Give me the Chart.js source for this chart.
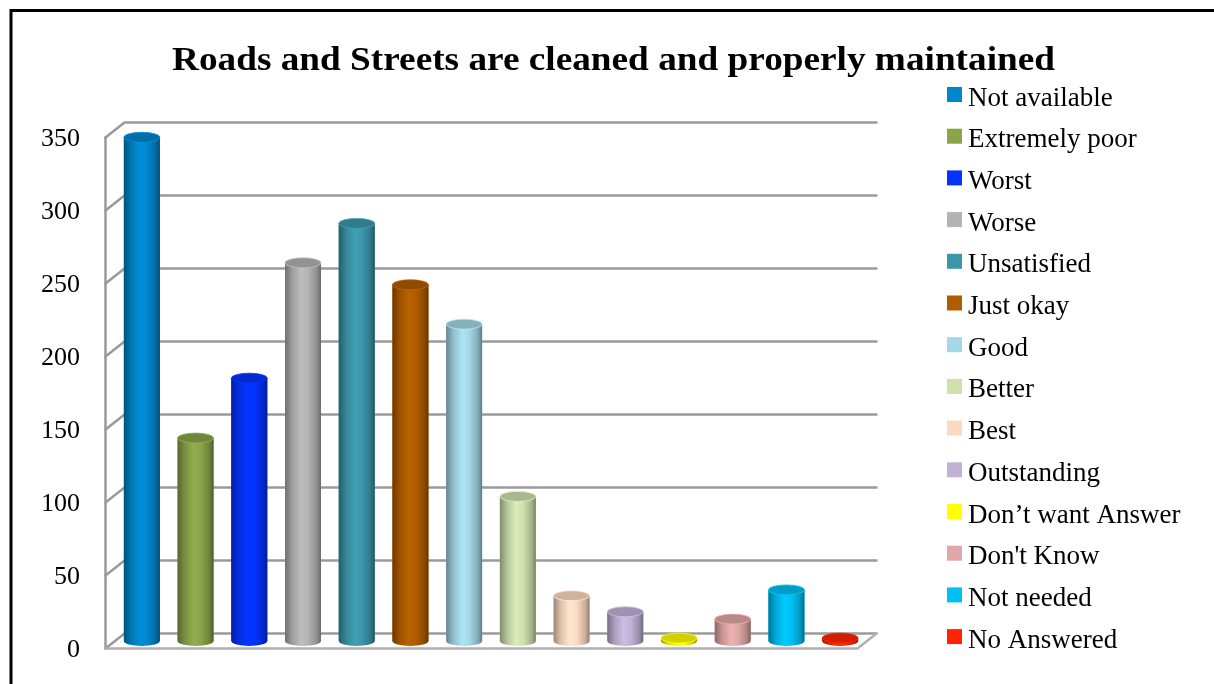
<!DOCTYPE html>
<html>
<head>
<meta charset="utf-8">
<script src="https://cdn.jsdelivr.net/npm/chart.js@4.4.1/dist/chart.umd.min.js"></script>
<style>
  html, body { margin: 0; padding: 0; background: #fff; }
  #wrap { width: 1214px; height: 684px; position: relative; }
</style>
</head>
<body>
<div id="wrap"><canvas id="roadsChart"></canvas></div>
<script>
const categories = [
    'Not available', 'Extremely poor', 'Worst', 'Worse', 'Unsatisfied',
    'Just okay', 'Good', 'Better', 'Best', 'Outstanding',
    'Don\u2019t want Answer', "Don't Know", 'Not needed', 'No Answered'
];
const responses = [345, 139, 180, 259, 286, 244, 217, 99, 31, 20, 2, 15, 35, 2];
const barColors = [
    '#0086cd', '#8aa44a', '#0432ff', '#b3b3b3', '#3c97ab',
    '#b05c00', '#a5d7e6', '#cfe0ad', '#fcdac2', '#c0b2d6',
    '#ffff00', '#e0a7a6', '#00bff3', '#ff2400'
];
const yTicks = [0, 50, 100, 150, 200, 250, 300, 350];
const chartTitle = 'Roads and Streets are cleaned and properly maintained';

const FONT = '"Liberation Serif", "Times New Roman", serif';
const DX = 9.5, DY = 7.5;   // half depth of the 3d box

// back wall, side slants and floor
const wallsPlugin = {
    id: 'walls',
    beforeDraw(chart) {
        const ctx = chart.ctx;
        ctx.save();
        ctx.fillStyle = '#fff';
        ctx.fillRect(0, 0, chart.width, chart.height);
        ctx.strokeStyle = '#000';
        ctx.lineWidth = 3;
        ctx.strokeRect(11, 10.5, chart.width + 20, chart.height + 20);
        ctx.restore();
    },
    beforeDatasetsDraw(chart) {
        const ctx = chart.ctx;
        const y = chart.scales.y;
        const L = chart.chartArea.left, R = chart.chartArea.right;
        ctx.save();
        ctx.lineCap = 'round';
        ctx.strokeStyle = '#9a9a9a';
        ctx.lineWidth = 2.5;
        yTicks.forEach(v => {
            const py = y.getPixelForValue(v);
            ctx.beginPath();
            ctx.moveTo(L - DX, py + DY);
            ctx.lineTo(L + DX, py - DY);
            ctx.lineTo(R + DX, py - DY);
            ctx.stroke();
        });
        const top = y.getPixelForValue(yTicks[yTicks.length - 1]);
        const base = y.getPixelForValue(0);
        ctx.beginPath();
        ctx.moveTo(L - DX, top + DY);
        ctx.lineTo(L - DX, base + DY);
        ctx.stroke();
        ctx.strokeStyle = '#b0b0b0';
        ctx.beginPath();
        ctx.moveTo(L - DX, base + DY);
        ctx.lineTo(R - DX, base + DY);
        ctx.lineTo(R + DX, base - DY);
        ctx.stroke();
        ctx.restore();
    }
};

function shade(hex, f) {
    const n = parseInt(hex.slice(1), 16);
    const r = Math.min(255, Math.round(((n >> 16) & 255) * f));
    const g = Math.min(255, Math.round(((n >> 8) & 255) * f));
    const b = Math.min(255, Math.round((n & 255) * f));
    return `rgb(${r},${g},${b})`;
}

// turns the flat bars into cylinders
const cylinderPlugin = {
    id: 'cylinders',
    afterDatasetsDraw(chart) {
        const ctx = chart.ctx;
        const meta = chart.getDatasetMeta(0);
        meta.data.forEach((bar, i) => {
            const { x, y, base, width } = bar.getProps(['x', 'y', 'base', 'width'], true);
            const rx = width / 2, ry = 5;
            const col = barColors[i];
            const grad = ctx.createLinearGradient(x - rx, 0, x + rx, 0);
            grad.addColorStop(0, shade(col, 0.62));
            grad.addColorStop(0.2, shade(col, 0.88));
            grad.addColorStop(0.45, shade(col, 1.06));
            grad.addColorStop(0.65, shade(col, 1.0));
            grad.addColorStop(0.88, shade(col, 0.8));
            grad.addColorStop(1, shade(col, 0.58));
            ctx.save();
            ctx.fillStyle = grad;
            ctx.beginPath();
            ctx.moveTo(x - rx, y);
            ctx.lineTo(x - rx, base);
            ctx.ellipse(x, base, rx, ry, 0, Math.PI, 0, true);
            ctx.lineTo(x + rx, y);
            ctx.closePath();
            ctx.fill();
            ctx.beginPath();
            ctx.ellipse(x, y, rx, ry, 0, 0, Math.PI * 2);
            ctx.fillStyle = shade(col, 0.82);
            ctx.fill();
            ctx.strokeStyle = shade(col, 1.08);
            ctx.lineWidth = 0.8;
            ctx.stroke();
            ctx.restore();
        });
    }
};

// title and legend column
const textPlugin = {
    id: 'sideText',
    afterDraw(chart) {
        const ctx = chart.ctx;
        ctx.save();
        ctx.font = 'bold 34px ' + FONT;
        ctx.fillStyle = '#000';
        ctx.textAlign = 'center';
        ctx.textBaseline = 'alphabetic';
        const w = ctx.measureText(chartTitle).width;
        const sx = 883 / w;
        ctx.translate(613.5, 70);
        ctx.scale(sx, 1);
        ctx.fillText(chartTitle, 0, 0);
        ctx.restore();

        ctx.save();
        ctx.font = '27px ' + FONT;
        ctx.textBaseline = 'alphabetic';
        categories.forEach((name, i) => {
            const top = 87 + i * 41.7;
            ctx.fillStyle = barColors[i];
            ctx.fillRect(947, top, 15, 15);
            ctx.fillStyle = '#000';
            ctx.fillText(name, 968, top + 18.5);
        });
        ctx.restore();
    }
};

new Chart(document.getElementById('roadsChart'), {
    type: 'bar',
    data: {
        labels: categories,
        datasets: [{
            label: 'Responses',
            data: responses,
            backgroundColor: barColors,
            borderWidth: 0,
            barPercentage: 1,
            categoryPercentage: 0.67
        }]
    },
    options: {
        responsive: true,
        maintainAspectRatio: false,
        animation: false,
        layout: {
            padding: { left: 38, right: 347, top: 130, bottom: 43 }
        },
        scales: {
            x: {
                display: false
            },
            y: {
                min: 0,
                max: 350,
                afterFit(scale) { scale.width = 77; },
                grid: { display: false, drawTicks: false },
                border: { display: false },
                ticks: {
                    stepSize: 50,
                    padding: 35,
                    labelOffset: 9,
                    color: '#000',
                    // small lineHeight keeps the label padding from eating the plot bottom
                    font: { family: FONT, size: 26, lineHeight: 0.25 }
                }
            }
        },
        plugins: {
            legend: { display: false },
            tooltip: { enabled: false },
            title: { display: false }
        }
    },
    plugins: [wallsPlugin, cylinderPlugin, textPlugin]
});
</script>
</body>
</html>
